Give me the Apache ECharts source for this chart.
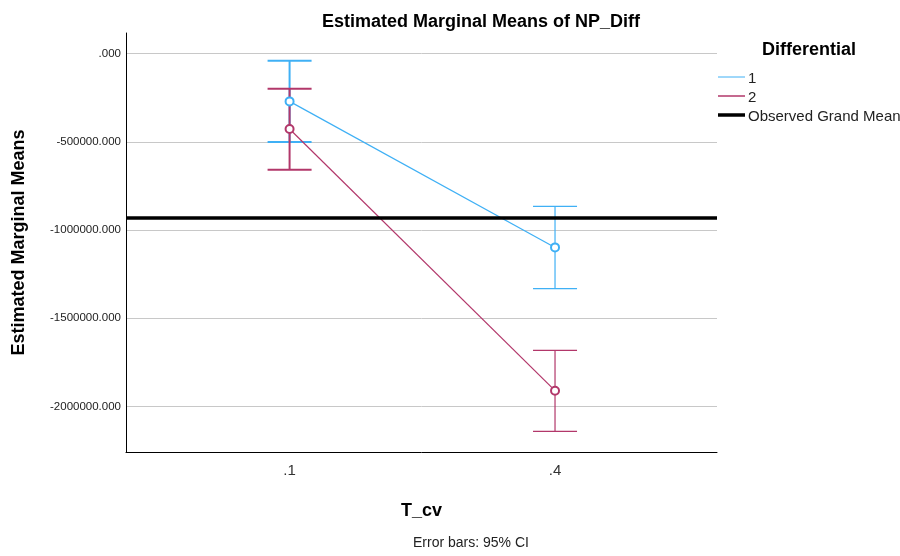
<!DOCTYPE html>
<html>
<head>
<meta charset="utf-8">
<script src="https://cdn.jsdelivr.net/npm/echarts@6/dist/echarts.min.js"></script>
<style>html,body{margin:0;padding:0;background:#fff}#c{width:900px;height:556px}</style>
</head>
<body>
<div id="c"></div>
<script>
// ---- data ----
const categories = [0.1, 0.4];
const categoryLabels = ['.1', '.4'];
const series1Mean = [-270500, -1098500];
const series1Upper = [-39700, -866000];
const series1Lower = [-500800, -1332700];
const series2Mean = [-427000, -1911100];
const series2Upper = [-198500, -1682600];
const series2Lower = [-657800, -2142000];
const grandMean = -928300;
const yTicks = [0, -500000, -1000000, -1500000, -2000000];
const seriesNames = ['1', '2'];
const legendTitle = 'Differential';
const grandMeanLabel = 'Observed Grand Mean';

const BLUE = '#3fb0f5';
const RED = '#b2376a';
const FONT = 'Liberation Sans, Arial, sans-serif';

const chart = echarts.init(document.getElementById('c'), null, {renderer: 'canvas'});

function errData(lo, hi) {
  return categories.map((x, i) => [x, lo[i], hi[i]]);
}
function errSeries(lo, hi, color) {
  return {
    type: 'custom',
    data: errData(lo, hi),
    silent: true,
    z: 3,
    renderItem: function (params, api) {
      const x = api.value(0);
      const pLo = api.coord([x, api.value(1)]);
      const pHi = api.coord([x, api.value(2)]);
      const half = 22;
      const w = params.dataIndex === 0 ? 2 : 1.2;
      const style = {stroke: color, lineWidth: w};
      return {
        type: 'group',
        children: [
          {type: 'line', shape: {x1: pLo[0], y1: pLo[1], x2: pHi[0], y2: pHi[1]}, style: style},
          {type: 'line', shape: {x1: pLo[0] - half, y1: pLo[1], x2: pLo[0] + half, y2: pLo[1]}, style: style},
          {type: 'line', shape: {x1: pHi[0] - half, y1: pHi[1], x2: pHi[0] + half, y2: pHi[1]}, style: style}
        ]
      };
    }
  };
}
function meanSeries(name, vals, color) {
  return {
    name: name,
    type: 'line',
    data: categories.map((x, i) => [x, vals[i]]),
    symbol: 'emptyCircle',
    symbolSize: 8,
    lineStyle: {color: color, width: 1.2},
    itemStyle: {color: color, borderColor: color, borderWidth: 1.3},
    silent: true,
    z: 4
  };
}

const legX = 718;

chart.setOption({
  animation: false,
  backgroundColor: '#fff',
  title: {
    text: 'Estimated Marginal Means of NP_Diff',
    left: 317, top: 8,
    textStyle: {fontFamily: FONT, fontSize: 18, fontWeight: 'bold', color: '#000'}
  },
  grid: {left: 126, right: 183, top: 33, bottom: 104, outerBoundsMode: 'none', containLabel: false},
  xAxis: {
    type: 'value',
    min: -0.08487, max: 0.58306,
    name: 'T_cv', nameLocation: 'middle', nameGap: 50,
    nameTextStyle: {fontFamily: FONT, fontSize: 18, fontWeight: 'bold', color: '#000'},
    axisLine: {onZero: false, lineStyle: {color: '#000', width: 1}},
    axisTick: {show: false, customValues: categories},
    splitLine: {show: false},
    axisLabel: {
      customValues: categories,
      margin: 11,
      fontFamily: FONT, fontSize: 15, color: '#333',
      formatter: function (v) { const i = categories.indexOf(v); return i >= 0 ? categoryLabels[i] : ''; }
    }
  },
  yAxis: {
    type: 'value',
    min: -2258800, max: 117400,
    name: 'Estimated Marginal Means', nameLocation: 'middle', nameGap: 98, nameRotate: 90,
    nameTextStyle: {fontFamily: FONT, fontSize: 18, fontWeight: 'bold', color: '#000'},
    axisLine: {show: true, onZero: false, lineStyle: {color: '#000', width: 1}},
    axisTick: {show: false, customValues: yTicks},
    splitLine: {show: true, lineStyle: {color: '#c8c8c8', width: 1}},
    axisLabel: {
      customValues: yTicks,
      margin: 5,
      fontFamily: FONT, fontSize: 11.5, color: '#222',
      formatter: function (v) { return v === 0 ? '.000' : v.toFixed(3); }
    }
  },
  series: [
    errSeries(series1Lower, series1Upper, BLUE),
    errSeries(series2Lower, series2Upper, RED),
    meanSeries(seriesNames[0], series1Mean, BLUE),
    meanSeries(seriesNames[1], series2Mean, RED),
    {
      type: 'line', data: [], silent: true,
      markLine: {
        silent: true, symbol: 'none', label: {show: false},
        lineStyle: {color: '#000', width: 3.5, type: 'solid'},
        data: [{yAxis: grandMean}]
      }
    }
  ],
  graphic: [
    {type: 'text', left: 762, top: 41, style: {text: legendTitle, font: 'bold 18px ' + FONT, fill: '#000'}},
    {type: 'line', shape: {x1: legX, y1: 77, x2: legX + 27, y2: 77}, style: {stroke: BLUE, lineWidth: 1}},
    {type: 'text', left: 748, top: 71, style: {text: seriesNames[0], font: '15px ' + FONT, fill: '#222'}},
    {type: 'line', shape: {x1: legX, y1: 96, x2: legX + 27, y2: 96}, style: {stroke: RED, lineWidth: 1.5}},
    {type: 'text', left: 748, top: 90, style: {text: seriesNames[1], font: '15px ' + FONT, fill: '#222'}},
    {type: 'line', shape: {x1: legX, y1: 115, x2: legX + 27, y2: 115}, style: {stroke: '#000', lineWidth: 3.5}},
    {type: 'text', left: 748, top: 109, style: {text: grandMeanLabel, font: '15px ' + FONT, fill: '#222'}},
    {type: 'text', left: 413, top: 536, style: {text: 'Error bars: 95% CI', font: '14px ' + FONT, fill: '#222'}}
  ]
});
</script>
</body>
</html>
